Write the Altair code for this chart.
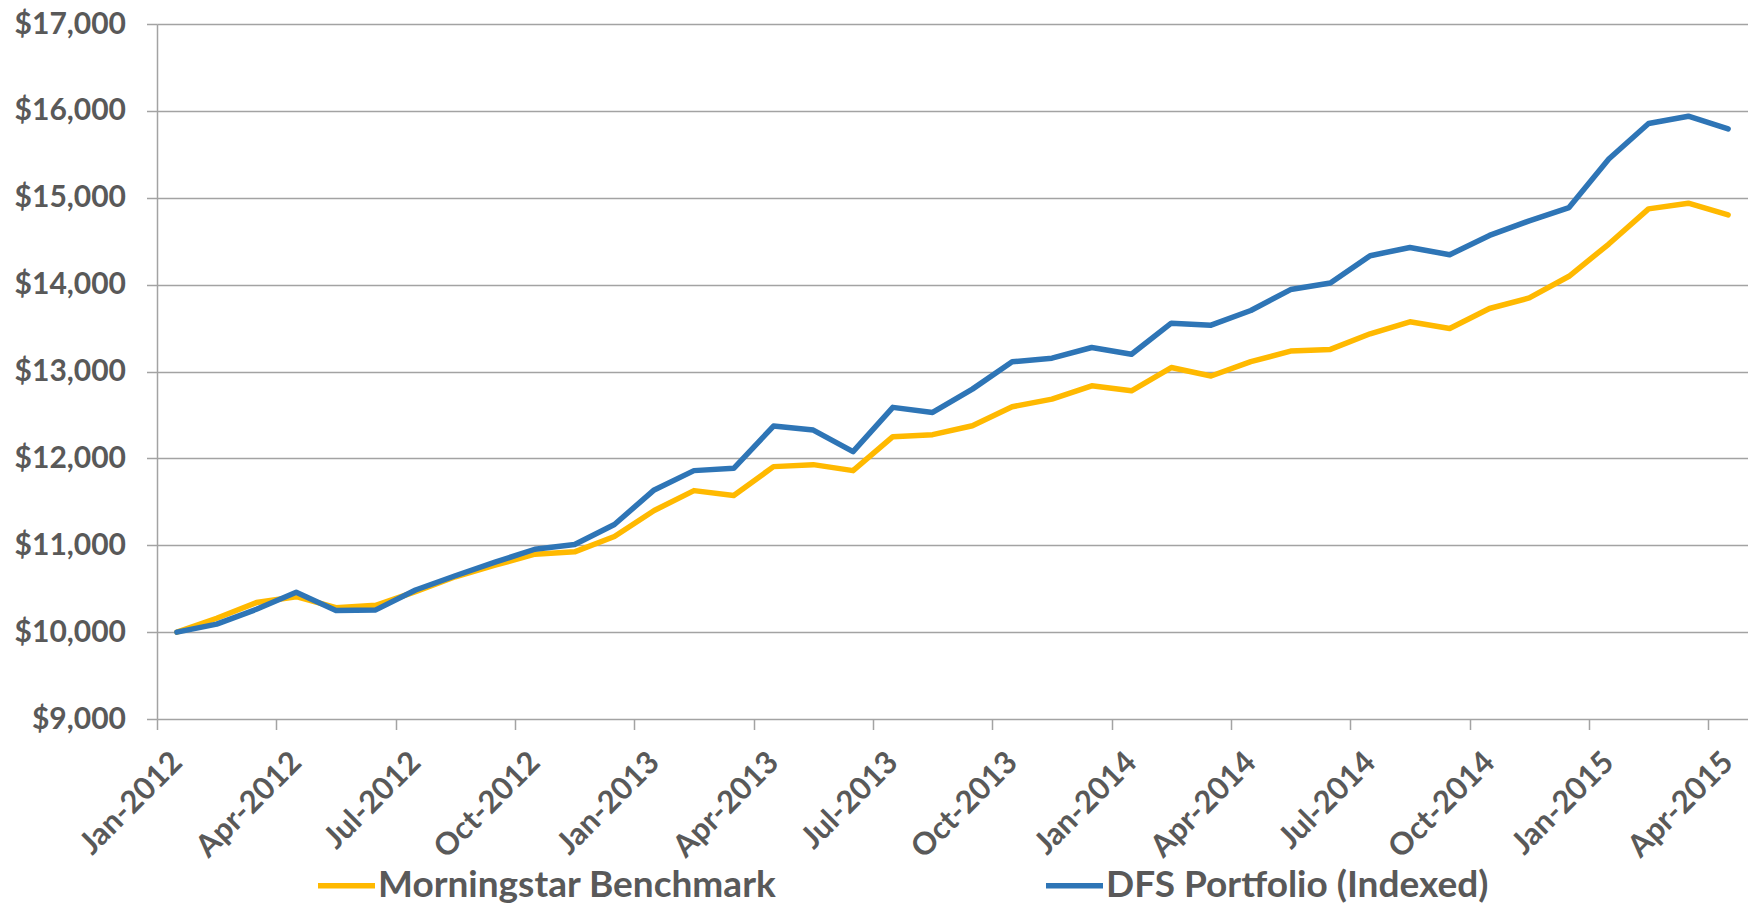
import altair as alt
import pandas as pd

month_labels = [
    "Jan-2012", "Feb-2012", "Mar-2012", "Apr-2012", "May-2012", "Jun-2012",
    "Jul-2012", "Aug-2012", "Sep-2012", "Oct-2012", "Nov-2012", "Dec-2012",
    "Jan-2013", "Feb-2013", "Mar-2013", "Apr-2013", "May-2013", "Jun-2013",
    "Jul-2013", "Aug-2013", "Sep-2013", "Oct-2013", "Nov-2013", "Dec-2013",
    "Jan-2014", "Feb-2014", "Mar-2014", "Apr-2014", "May-2014", "Jun-2014",
    "Jul-2014", "Aug-2014", "Sep-2014", "Oct-2014", "Nov-2014", "Dec-2014",
    "Jan-2015", "Feb-2015", "Mar-2015", "Apr-2015",
]

morningstar = [
    10000, 10160, 10340, 10408, 10282, 10309, 10466, 10637, 10771, 10897,
    10924, 11101, 11400, 11629, 11572, 11905, 11928, 11859, 12250, 12273,
    12376, 12594, 12682, 12835, 12778, 13046, 12948, 13113, 13235, 13254,
    13434, 13572, 13495, 13725, 13847, 14096, 14467, 14872, 14937, 14803,
]

dfs = [
    10000, 10092, 10263, 10458, 10248, 10256, 10485, 10649, 10805, 10954,
    11008, 11239, 11637, 11859, 11886, 12372, 12326, 12077, 12587, 12529,
    12797, 13111, 13153, 13276, 13199, 13556, 13533, 13702, 13943, 14019,
    14333, 14428, 14344, 14566, 14734, 14887, 15446, 15855, 15939, 15793,
]

tick_labels = [
    "Jan-2012", "Apr-2012", "Jul-2012", "Oct-2012", "Jan-2013", "Apr-2013",
    "Jul-2013", "Oct-2013", "Jan-2014", "Apr-2014", "Jul-2014", "Oct-2014",
    "Jan-2015", "Apr-2015",
]

y_ticks = [9000, 10000, 11000, 12000, 13000, 14000, 15000, 16000, 17000]

series_names = ["Morningstar Benchmark", "DFS Portfolio (Indexed)"]
series_colors = ["#FFB900", "#2E75B6"]

rows = []
for name, values in zip(series_names, [morningstar, dfs]):
    for i, (m, v) in enumerate(zip(month_labels, values)):
        rows.append({"idx": i, "month": m, "series": name, "value": v})
df = pd.DataFrame(rows)

# tick positions sit on the month-slot boundaries (every 3 months)
tick_positions = [month_labels.index(t) - 0.5 for t in tick_labels]
label_array = "[" + ",".join("'" + t + "'" for t in tick_labels) + "]"
label_expr = label_array + "[round((datum.value + 0.5) / 3)]"

TEXT = "#595959"
GRID = "#A3A3A3"
FONT = "Lato"

chart = (
    alt.Chart(df)
    .mark_line(strokeWidth=5.5, strokeCap="round", strokeJoin="round")
    .encode(
        x=alt.X(
            "idx:Q",
            scale=alt.Scale(domain=[-0.5, len(month_labels) - 0.5], nice=False, zero=False),
            axis=alt.Axis(
                values=tick_positions,
                labelExpr=label_expr,
                title=None,
                grid=False,
                domain=False,
                ticks=True,
                tickSize=10.5,
                tickWidth=1.5,
                tickColor=GRID,
                labelAngle=-45,
                labelAlign="right",
                labelBaseline="middle",
                labelOffset=20,
                labelPadding=28,
                labelFont=FONT,
                labelFontSize=31,
                labelFontWeight="bold",
                labelColor=TEXT,
                labelOverlap=False,
                labelBound=False,
                labelFlush=False,
            ),
        ),
        y=alt.Y(
            "value:Q",
            scale=alt.Scale(domain=[9000, 17000], nice=False, zero=False),
            axis=alt.Axis(
                values=y_ticks,
                format="$,.0f",
                title=None,
                grid=True,
                gridColor=GRID,
                gridWidth=1.5,
                domain=True,
                domainColor=GRID,
                domainWidth=1.5,
                ticks=True,
                tickSize=10.5,
                tickWidth=1.5,
                tickColor=GRID,
                labelPadding=21,
                labelFont=FONT,
                labelFontSize=30,
                labelFontWeight="bold",
                labelColor=TEXT,
                labelOverlap=False,
                labelFlush=False,
            ),
        ),
        color=alt.Color(
            "series:N",
            scale=alt.Scale(domain=series_names, range=series_colors),
            sort=series_names,
            legend=alt.Legend(
                orient="none",
                legendX=158,
                legendY=830,
                direction="horizontal",
                columns=2,
                columnPadding=258,
                title=None,
                symbolType="stroke",
                symbolSize=3249,
                symbolStrokeWidth=5.5,
                labelFont=FONT,
                labelFontSize=37,
                labelFontWeight="bold",
                labelColor=TEXT,
                labelOffset=0,
                labelLimit=0,
            ),
        ),
        order=alt.Order("idx:Q"),
    )
    .properties(
        width=1591,
        height=695,
        autosize=alt.AutoSizeParams(type="none"),
        padding={"left": 149, "top": 16, "right": 0, "bottom": 186},
    )
    .configure_view(stroke=None)
)

chart.save("out.html", embed_options={"renderer": "svg", "actions": False})
